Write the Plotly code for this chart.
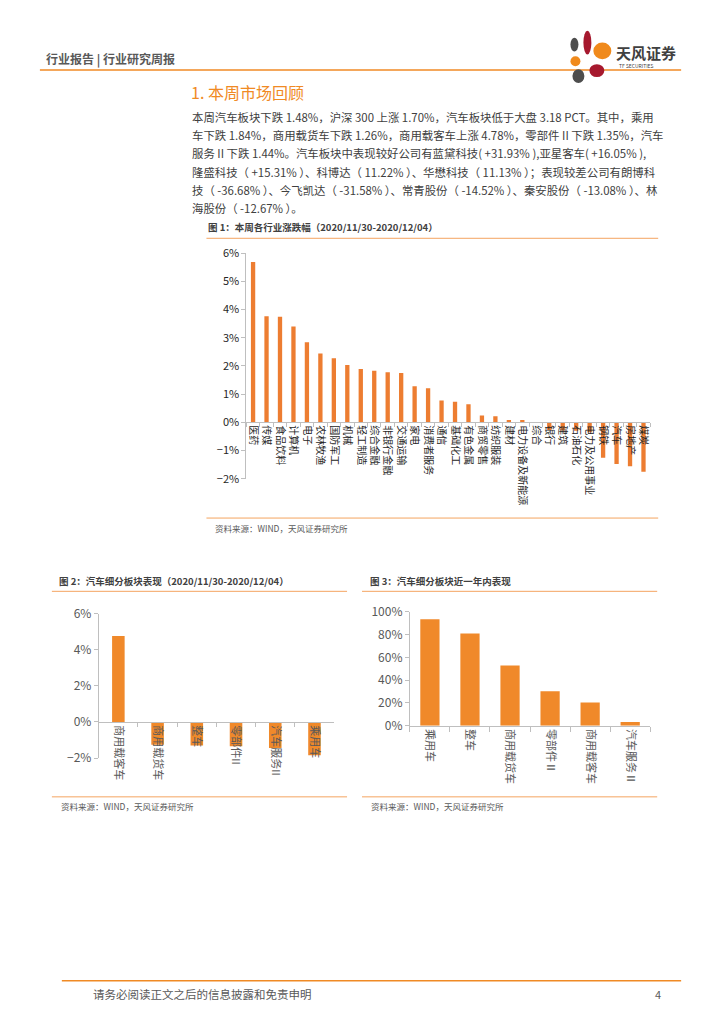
import plotly.graph_objects as go

W, H = 724, 1024
OFF = 8  # page body margin offset
FONT = "Noto Sans CJK SC, Noto Sans, sans-serif"


def px(x):
    return (x - OFF) / W


def py(y):
    return 1 - (y - OFF) / H


# ---------------- data ----------------
ind_names = ["医药", "传媒", "食品饮料", "计算机", "电子", "农林牧渔", "国防军工", "机械",
             "轻工制造", "综合金融", "非银行金融", "交通运输", "家电", "消费者服务", "通信",
             "基础化工", "有色金属", "商贸零售", "纺织服装", "建材", "电力设备及新能源", "综合",
             "银行", "建筑", "石油石化", "电力及公用事业", "钢铁", "汽车", "房地产", "煤炭"]
ind_values = [5.68, 3.76, 3.74, 3.40, 2.84, 2.44, 2.27, 2.03,
              1.89, 1.83, 1.77, 1.75, 1.28, 1.21, 0.77,
              0.73, 0.64, 0.24, 0.21, 0.08, 0.08, 0.0,
              -0.27, -0.29, -0.30, -0.35, -1.26, -1.48, -1.56, -1.75]

week_cats = ["商用载客车", "商用载货车", "整车", "零部件II", "汽车服务II", "乘用车"]
week_values = [4.78, -1.26, -1.30, -1.35, -1.44, -1.84]

year_cats = ["乘用车", "整车", "商用载货车", "零部件Ⅱ", "商用载客车", "汽车服务Ⅱ"]
year_values = [93.4, 80.8, 52.9, 30.2, 20.4, 3.2]

para_lines = [
    "本周汽车板块下跌 1.48%，沪深 300 上涨 1.70%，汽车板块低于大盘 3.18 PCT。其中，乘用",
    "车下跌 1.84%，商用载货车下跌 1.26%，商用载客车上涨 4.78%，零部件 II 下跌 1.35%，汽车",
    "服务 II 下跌 1.44%。汽车板块中表现较好公司有蓝黛科技( +31.93% ),亚星客车( +16.05% ),",
    "隆盛科技（ +15.31% ）、科博达（ 11.22% ）、华懋科技（ 11.13% ）；表现较差公司有朗博科",
    "技（ -36.68% ）、今飞凯达（ -31.58% ）、常青股份（ -14.52% ）、秦安股份（ -13.08% ）、林",
    "海股份（ -12.67% ）。",
]

ORANGE1 = "#ED7D31"
ORANGE2 = "#F0892A"
LINE_OR = "#F4A460"
AXIS = "#BFBFBF"

fig = go.Figure()

fig.add_trace(go.Bar(x=ind_names, y=ind_values, width=0.32,
                     marker=dict(color=ORANGE1, line=dict(width=0)),
                     xaxis="x", yaxis="y", showlegend=False))
fig.add_trace(go.Bar(x=week_cats, y=week_values, width=0.32,
                     marker=dict(color=ORANGE2, line=dict(width=0)),
                     xaxis="x2", yaxis="y2", showlegend=False))
fig.add_trace(go.Bar(x=year_cats, y=year_values, width=0.48,
                     marker=dict(color=ORANGE2, line=dict(width=0)),
                     xaxis="x3", yaxis="y3", showlegend=False))

common_x = dict(type="category", showline=True, linecolor=AXIS, linewidth=1, ticks="outside",
                tickson="boundaries", ticklen=4, tickcolor=AXIS, tickangle=90, showgrid=False,
                zeroline=False, fixedrange=True)
common_y = dict(showline=True, linecolor=AXIS, linewidth=1, ticks="outside", ticklen=4,
                tickcolor=AXIS, showgrid=False, zeroline=False, ticksuffix="%")

fig.update_layout(
    width=W, height=H, margin=dict(l=0, r=0, t=0, b=0),
    paper_bgcolor="white", plot_bgcolor="white",
    font=dict(family=FONT, color="#404040"),
    xaxis=dict(common_x, domain=[px(247), px(652)], anchor="free", position=py(419),
               tickfont=dict(size=10, color="#262626")),
    yaxis=dict(common_y, domain=[py(476.5), py(247)], range=[-2, 6], dtick=1, anchor="x",
               tickfont=dict(size=11, color="#262626")),
    xaxis2=dict(common_x, domain=[px(99), px(335)], anchor="free", position=py(724),
                tickfont=dict(size=11, color="#595959")),
    yaxis2=dict(common_y, domain=[py(760.5), py(614)], range=[-2, 6], dtick=2, anchor="x2",
                tickfont=dict(size=12, color="#595959")),
    xaxis3=dict(common_x, domain=[px(411), px(652)], anchor="y3", ticklen=5,
                tickfont=dict(size=11, color="#595959")),
    yaxis3=dict(common_y, domain=[py(727.7), py(611.7)], range=[0, 100], dtick=20, anchor="x3",
                tickfont=dict(size=12, color="#595959")),
)

shapes = []
annotations = []


def hline(y, x0, x1, color=LINE_OR, width=1):
    shapes.append(dict(type="line", xref="paper", yref="paper", x0=px(x0), x1=px(x1),
                       y0=py(y), y1=py(y), line=dict(color=color, width=width)))


def text(x, y, s, size, color="#404040", bold=False, xanchor="left", family=FONT):
    if bold:
        s = "<b>" + s + "</b>"
    annotations.append(dict(xref="paper", yref="paper", x=px(x), y=py(y), text=s,
                            showarrow=False, xanchor=xanchor, yanchor="middle",
                            font=dict(size=size, color=color, family=family)))


# header
text(44, 50, "行业报告 | 行业研究周报", 12, color="#595959", bold=True)
hline(61, 40, 683, color="#F08A24", width=1.5)
text(616, 43, "天风证券", 15, color="#404040", bold=True)
text(619, 56, "TF SECURITIES", 5, color="#404040")

# logo petals (ellipses)
petals = [
    (572, 28, 580, 42, "#4D4D4D"),
    (585, 21, 593, 45, "#A6192E"),
    (595, 33, 613, 50, "#F08A1C"),
    (572, 47, 582, 57, "#F08A1C"),
    (591, 55, 606, 68, "#A6192E"),
    (574, 60, 586, 74, "#4D4D4D"),
]
for x0, y0, x1, y1, c in petals:
    shapes.append(dict(type="circle", xref="paper", yref="paper", x0=px(x0), x1=px(x1),
                       y0=py(y1), y1=py(y0), fillcolor=c, line=dict(width=0)))

# section heading
text(189, 83, "1. 本周市场回顾", 16, color="#F08A24")

# paragraph
for i, line in enumerate(para_lines):
    text(191, 108.5 + i * 18.6, line, 11.4, color="#404040")

# chart 1 frame
text(207, 221, "图 1：本周各行业涨跌幅（2020/11/30-2020/12/04）", 9.5, color="#404040", bold=True)
hline(232, 207, 660)
hline(516.5, 207, 660)
text(214, 527, "资料来源：WIND，天风证券研究所", 8.5, color="#595959")

# chart 2 frame
text(57, 581, "图 2：汽车细分板块表现（2020/11/30-2020/12/04）", 9.5, color="#404040", bold=True)
hline(591, 52, 348)
hline(800, 52, 348)
text(59, 809, "资料来源：WIND，天风证券研究所", 8.5, color="#595959")

# chart 3 frame
text(369, 581, "图 3：汽车细分板块近一年内表现", 9.5, color="#404040", bold=True)
hline(591, 363, 659)
hline(800, 363, 659)
text(370, 809, "资料来源：WIND，天风证券研究所", 8.5, color="#595959")

# footer
hline(987, 62, 683, color="#F08A24", width=1.5)
text(91, 1000, "请务必阅读正文之后的信息披露和免责申明", 11.5, color="#595959")
text(655, 1000, "4", 11, color="#595959")

fig.update_layout(shapes=shapes, annotations=annotations)
fig.write_html("out.html")
